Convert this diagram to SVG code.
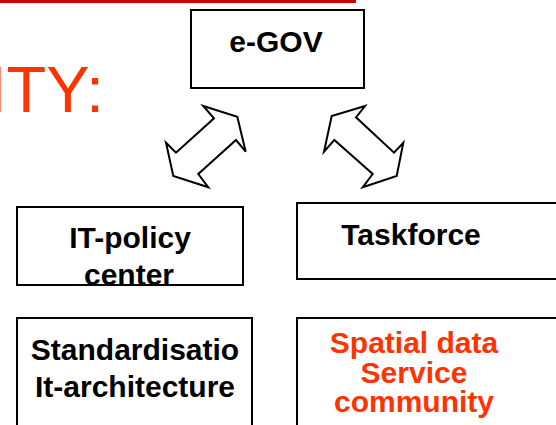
<svg xmlns="http://www.w3.org/2000/svg" width="556" height="425" viewBox="0 0 556 425">
<style>
.box{fill:#fff;stroke:#000;stroke-width:2}
.t{font-family:"Liberation Sans",Arial,sans-serif;font-weight:bold;font-size:30px;text-anchor:middle;fill:#000}
.red{fill:#ff3300}
.arr{fill:#fff;stroke:#000;stroke-width:2;stroke-linejoin:miter}
</style>
<rect width="556" height="425" fill="#fff"/>
<rect x="0" y="0" width="356" height="3" fill="#cc0000"/>
<text x="104" y="112" font-family="Liberation Sans,Arial,sans-serif" font-size="65" fill="#ff3300" text-anchor="end">ITY:</text>
<g id="egov">
<rect class="box" x="191" y="10" width="173" height="78"/>
<text class="t" x="276" y="52">e-GOV</text>
</g>
<g id="itpolicy">
<rect class="box" x="17" y="207" width="226" height="78"/>
<text class="t" x="130" y="248">IT-policy</text>
<text class="t" x="129" y="285">center</text>
</g>
<g id="taskforce">
<rect class="box" x="297" y="203" width="270" height="76"/>
<text class="t" x="411" y="245">Taskforce</text>
</g>
<g id="standard">
<rect class="box" x="17" y="318" width="235" height="120"/>
<text class="t" x="135" y="360">Standardisatio</text>
<text class="t" x="135" y="397">It-architecture</text>
</g>
<g id="spatial">
<rect class="box" x="297" y="318" width="270" height="120"/>
<text class="t red" x="414" y="353">Spatial data</text>
<text class="t red" x="414" y="383">Service</text>
<text class="t red" x="414" y="412">community</text>
</g>
<g id="connectors">
<polygon class="arr" points="203.3,106 237.3,116.7 245.7,151.7 236,140 198.3,174 208.3,187.3 173.3,176 166,142.7 176,152.7 214,118.3"/>
<polygon class="arr" points="365,106 331.7,116 324,151.7 334.3,140 372.7,174 362.7,187.3 396.7,176 403.3,142.7 394,152.7 356,117.3"/>
</g>
</svg>
